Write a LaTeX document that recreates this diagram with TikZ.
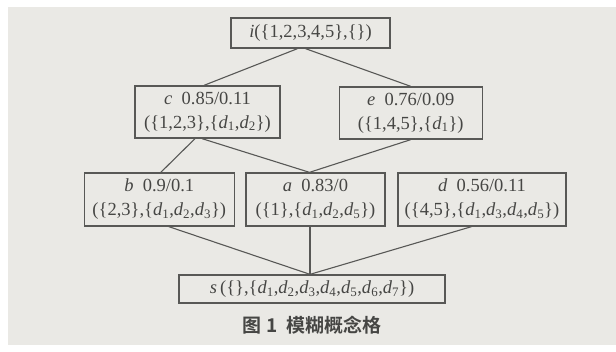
\documentclass[tikz,border=0pt]{standalone}
\usepackage{fontspec}
\setmainfont{Liberation Serif}
\newfontfamily\cjk{Noto Sans CJK SC Bold}
\usetikzlibrary{calc}
\newcommand\dsub[1]{\textit{d}\textsubscript{#1}}
\definecolor{bgc}{RGB}{234,233,229}
\definecolor{ink}{RGB}{88,88,86}
\definecolor{txt}{RGB}{70,70,68}
\tikzset{
  cbox/.style={draw=ink, line width=1.3pt, inner sep=0pt, align=center, text=txt,
    font=\fontsize{18.5}{24}\selectfont},
  link/.style={draw=ink, line width=1.1pt}
}
\begin{document}
\begin{tikzpicture}[x=1pt,y=-1pt]
\useasboundingbox (0,0) rectangle (616,352);
\fill[white] (0,0) rectangle (616,352);
\fill[bgc] (8,7) rectangle (616,345);
\node[cbox, minimum width=159pt, minimum height=30pt] (i) at (310.5,33) {\textit{i}(\{1,2,3,4,5\},\{\})};
\node[cbox, minimum width=145pt, minimum height=52pt] (c) at (207.5,112) {\textit{c}\ \ 0.85/0.11\\(\{1,2,3\},\{\dsub{1},\dsub{2}\})};
\node[cbox, minimum width=143pt, minimum height=52pt] (e) at (410.75,113) {\textit{e}\ \ 0.76/0.09\\(\{1,4,5\},\{\dsub{1}\})};
\node[cbox, minimum width=150pt, minimum height=53pt] (b) at (159.3,199.5) {\textit{b}\ \ 0.9/0.1\\(\{2,3\},\{\dsub{1},\dsub{2},\dsub{3}\})};
\node[cbox, minimum width=139pt, minimum height=53pt] (a) at (315.5,199.5) {\textit{a}\ \ 0.83/0\\(\{1\},\{\dsub{1},\dsub{2},\dsub{5}\})};
\node[cbox, minimum width=168pt, minimum height=53pt] (d) at (482,199.5) {\textit{d}\ \ 0.56/0.11\\(\{4,5\},\{\dsub{1},\dsub{3},\dsub{4},\dsub{5}\})};
\node[cbox, minimum width=266pt, minimum height=28pt] (s) at (312,289) {\textit{s}\,(\{\},\{\dsub{1},\dsub{2},\dsub{3},\dsub{4},\dsub{5},\dsub{6},\dsub{7}\})};
\node[text=txt, font=\cjk\fontsize{19}{21}\selectfont] (cap) at (312,325) {图 1\ \ 模糊概念格};
\draw[link] ([xshift=-13pt]i.south) -- ([xshift=-3.5pt]c.north);
\draw[link] ([xshift=-5pt]i.south) -- (e.north);
\draw[link] ([xshift=-12.5pt]c.south) -- ([xshift=1.5pt]b.north);
\draw[link] ([xshift=-5.5pt]c.south) -- ([xshift=-6pt]a.north);
\draw[link] (e.south) -- ([xshift=-6pt]a.north);
\draw[link] ([xshift=9.5pt]b.south) -- ([xshift=-2pt]s.north);
\draw[link] ([xshift=-5.5pt]a.south) -- ([xshift=-2pt]s.north);
\draw[link] ([xshift=-10.5pt]d.south) -- ([xshift=-2pt]s.north);
\end{tikzpicture}
\end{document}
